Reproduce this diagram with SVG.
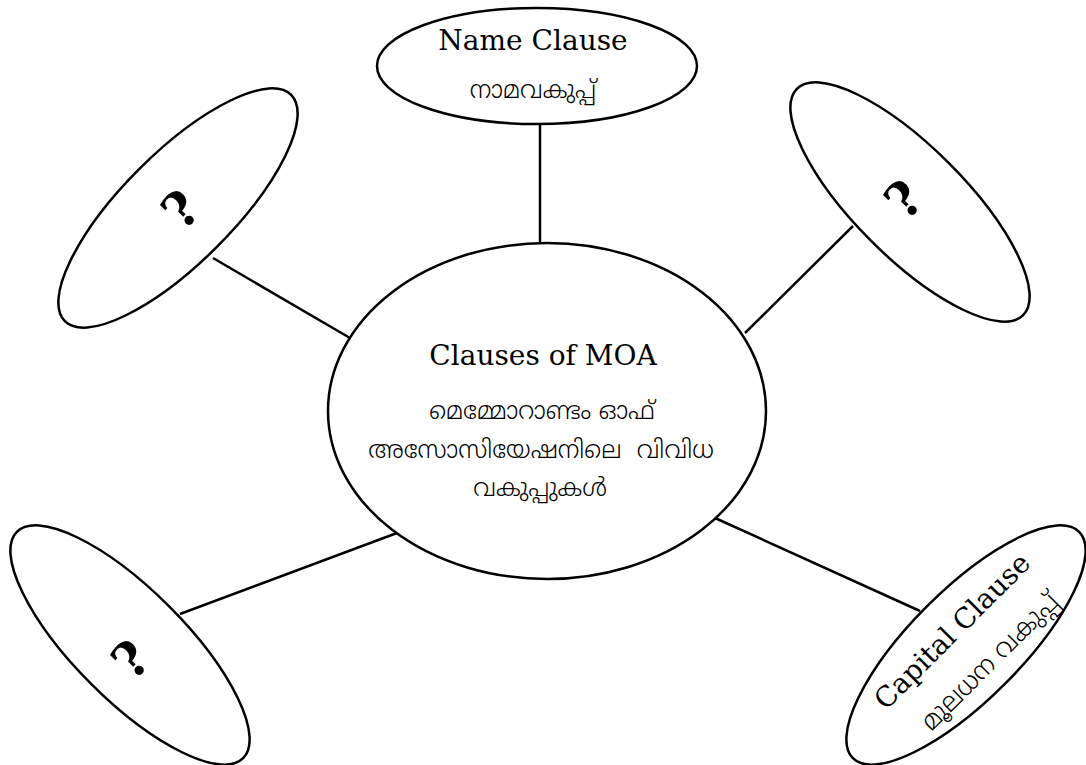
<svg xmlns="http://www.w3.org/2000/svg" width="1086" height="765" viewBox="0 0 1086 765">
<style>
.shape{fill:#fff;stroke:#000;stroke-width:2.5}
.conn line{stroke:#000;stroke-width:2.5}
.en{font-family:"DejaVu Serif","Liberation Serif",serif;font-size:28px;fill:#000;text-anchor:middle}
.ml{font-family:"Meera","Rachana","Lohit Malayalam","Noto Sans Malayalam","Noto Sans","DejaVu Sans",sans-serif;font-size:24.5px;font-weight:300;fill:#000;text-anchor:middle}
.q{font-family:"DejaVu Serif","Liberation Serif",serif;font-size:50px;font-weight:bold;fill:#000;text-anchor:middle}
</style>
<rect width="1086" height="765" fill="#fff"/>
<g id="connectors" class="conn">
<line x1="540" y1="120" x2="540" y2="243"/>
<line x1="213" y1="258" x2="350" y2="338"/>
<line x1="853" y1="226" x2="745" y2="333"/>
<line x1="180" y1="614" x2="397" y2="533"/>
<line x1="715" y1="518" x2="920" y2="611"/>
</g>
<g id="center">
<ellipse class="shape" cx="547" cy="411" rx="219" ry="168"/>
<text class="en" x="543" y="365">Clauses of MOA</text>
<text class="ml" x="542" y="419">മെമ്മോറാണ്ടം ഓഫ്</text>
<text class="ml" x="541" y="458" xml:space="preserve">അസോസിയേഷനിലെ  വിവിധ</text>
<text class="ml" x="540" y="496">വകുപ്പുകൾ</text>
</g>
<g id="name-clause">
<ellipse class="shape" cx="537" cy="66" rx="160" ry="58"/>
<text class="en" x="533" y="50">Name Clause</text>
<text class="ml" x="533" y="98">നാമവകുപ്പ്</text>
</g>
<g id="top-left">
<ellipse class="shape" cx="0" cy="0" rx="160" ry="55" transform="translate(178,208) rotate(-45)"/>
<text class="q" transform="translate(193,222) rotate(-45)">?</text>
</g>
<g id="top-right">
<ellipse class="shape" cx="0" cy="0" rx="160" ry="55" transform="translate(910,202) rotate(45)"/>
<text class="q" transform="translate(916,212) rotate(-45)">?</text>
</g>
<g id="bottom-left">
<ellipse class="shape" cx="0" cy="0" rx="160" ry="55" transform="translate(130,645) rotate(45)"/>
<text class="q" transform="translate(143,672) rotate(-45)">?</text>
</g>
<g id="capital-clause">
<ellipse class="shape" cx="0" cy="0" rx="160" ry="55" transform="translate(966,645) rotate(-45)"/>
<g transform="translate(966,645) rotate(-45)">
<text class="en" x="0" y="-10">Capital Clause</text>
<text class="ml" x="5" y="37" style="font-size:26px">മൂലധന വകുപ്പ്</text>
</g>
</g>
</svg>
